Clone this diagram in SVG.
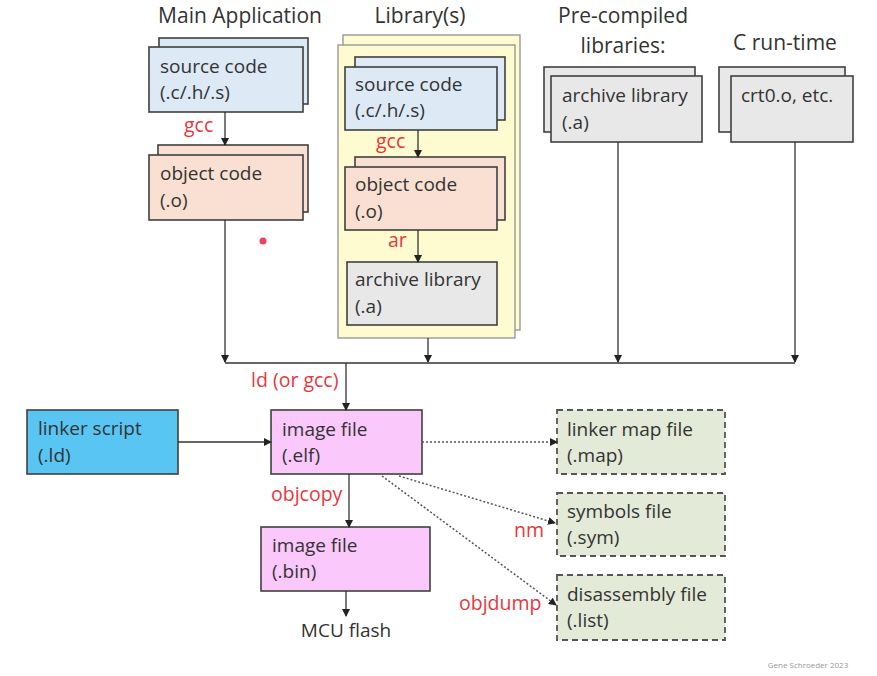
<svg xmlns="http://www.w3.org/2000/svg" width="877" height="676" viewBox="0 0 877 676">
<style>
text{font-family:"Open Sans","Liberation Sans",sans-serif;font-size:19px;fill:#333}
.t{font-size:21px;text-anchor:middle}
.lbl{fill:#e8383d;font-size:19.5px}
.box{stroke:#404040;stroke-width:1.6}
.src{fill:#dde9f5}
.obj{fill:#f9e0d2}
.arc{fill:#e8e8e8}
.pink{fill:#fbc8fb}
.blue{fill:#59c5f3}
.gr{fill:#e3ead8;stroke:#555;stroke-width:1.8;stroke-dasharray:6,4}
.ln{stroke:#333;stroke-width:1.3;fill:none}
.dl{stroke:#555;stroke-width:1.5;fill:none;stroke-dasharray:2,2}
</style>
<defs>
<marker id="ah" markerWidth="8" markerHeight="8" refX="7" refY="4" orient="auto" markerUnits="userSpaceOnUse">
<path d="M0,0 L8,4 L0,8 z" fill="#222"/>
</marker>
</defs>
<rect width="877" height="676" fill="#fff"/>

<g id="titles">
<text class="t" x="240" y="23">Main Application</text>
<text class="t" x="420" y="23">Library(s)</text>
<text class="t" x="623" y="23">Pre-compiled</text>
<text class="t" x="623" y="53">libraries:</text>
<text class="t" x="785" y="50">C run-time</text>
</g>

<g id="main-source">
<rect class="box src" x="159" y="38" width="149" height="66"/>
<rect class="box src" x="149" y="47" width="154" height="65"/>
<text x="160" y="73">source code</text>
<text x="160" y="99">(.c/.h/.s)</text>
</g>
<g id="main-object">
<rect class="box obj" x="158" y="145" width="150" height="67"/>
<rect class="box obj" x="149" y="155" width="154" height="65"/>
<text x="160" y="180">object code</text>
<text x="160" y="207">(.o)</text>
</g>

<g id="library">
<rect x="343" y="35" width="177" height="295" fill="#fdfbcf" stroke="#999" stroke-width="1.4"/>
<rect x="338" y="45" width="177" height="293" fill="#fdfbcf" stroke="#999" stroke-width="1.4"/>
<g id="lib-source">
<rect class="box src" x="355" y="57" width="150" height="63"/>
<rect class="box src" x="345" y="67" width="152" height="63"/>
<text x="355" y="91">source code</text>
<text x="355" y="117">(.c/.h/.s)</text>
</g>
<g id="lib-object">
<rect class="box obj" x="355" y="157" width="150" height="63"/>
<rect class="box obj" x="345" y="167" width="152" height="63"/>
<text x="355" y="191">object code</text>
<text x="355" y="218">(.o)</text>
</g>
<g id="lib-archive">
<rect class="box arc" x="347" y="262" width="150" height="63"/>
<text x="355" y="286">archive library</text>
<text x="355" y="313">(.a)</text>
</g>
</g>

<g id="precompiled">
<rect class="box arc" x="544" y="67" width="151" height="65"/>
<rect class="box arc" x="551" y="76" width="151" height="66"/>
<text x="562" y="102">archive library</text>
<text x="562" y="129">(.a)</text>
</g>
<g id="crt">
<rect class="box arc" x="719" y="67" width="126" height="65"/>
<rect class="box arc" x="731" y="76" width="122" height="66"/>
<text x="741" y="102">crt0.o, etc.</text>
</g>

<g id="linker-script">
<rect class="box blue" x="27" y="410" width="151" height="64"/>
<text x="38" y="435">linker script</text>
<text x="38" y="462">(.ld)</text>
</g>
<g id="image-elf">
<rect class="box pink" x="271" y="410" width="151" height="64"/>
<text x="282" y="436">image file</text>
<text x="282" y="462">(.elf)</text>
</g>
<g id="image-bin">
<rect class="box pink" x="261" y="527" width="169" height="64"/>
<text x="272" y="552">image file</text>
<text x="272" y="578">(.bin)</text>
</g>
<g id="mcu">
<text x="346" y="637" text-anchor="middle">MCU flash</text>
</g>
<g id="map">
<rect class="gr" x="557" y="410" width="168" height="64"/>
<text x="567" y="436">linker map file</text>
<text x="567" y="462">(.map)</text>
</g>
<g id="sym">
<rect class="gr" x="557" y="493" width="168" height="63"/>
<text x="567" y="518">symbols file</text>
<text x="567" y="544">(.sym)</text>
</g>
<g id="list">
<rect class="gr" x="557" y="575" width="168" height="65"/>
<text x="567" y="601">disassembly file</text>
<text x="567" y="627">(.list)</text>
</g>

<g id="connectors">
<line class="ln" x1="225" y1="112" x2="225" y2="145" marker-end="url(#ah)"/>
<line class="ln" x1="418" y1="130" x2="418" y2="157" marker-end="url(#ah)"/>
<line class="ln" x1="418" y1="230" x2="418" y2="262" marker-end="url(#ah)"/>
<line class="ln" x1="225" y1="220" x2="225" y2="362" marker-end="url(#ah)"/>
<line class="ln" x1="428" y1="338" x2="428" y2="362" marker-end="url(#ah)"/>
<line class="ln" x1="618" y1="142" x2="618" y2="362" marker-end="url(#ah)"/>
<line class="ln" x1="795" y1="142" x2="795" y2="362" marker-end="url(#ah)"/>
<line class="ln" x1="225" y1="363" x2="795" y2="363" stroke-width="2"/>
<line class="ln" x1="346" y1="363" x2="346" y2="410" marker-end="url(#ah)"/>
<line class="ln" x1="178" y1="442" x2="271" y2="442" marker-end="url(#ah)"/>
<line class="ln" x1="349" y1="474" x2="349" y2="527" marker-end="url(#ah)"/>
<line class="ln" x1="346" y1="591" x2="346" y2="616" marker-end="url(#ah)"/>
<line class="dl" x1="422" y1="442" x2="557" y2="442" marker-end="url(#ah)"/>
<line class="dl" x1="399" y1="476" x2="555" y2="523" marker-end="url(#ah)"/>
<line class="dl" x1="382" y1="476" x2="556" y2="605" marker-end="url(#ah)"/>
<text class="lbl" x="184" y="132">gcc</text>
<text class="lbl" x="376" y="148">gcc</text>
<text class="lbl" x="388" y="247">ar</text>
<text class="lbl" x="251" y="387">ld (or gcc)</text>
<text class="lbl" x="271" y="501">objcopy</text>
<text class="lbl" x="514" y="537">nm</text>
<text class="lbl" x="459" y="610">objdump</text>
</g>

<circle cx="263" cy="241" r="3.5" fill="#f0405a"/>
<text x="808" y="668" text-anchor="middle" style="font-size:8px;fill:#999">Gene Schroeder 2023</text>
</svg>
